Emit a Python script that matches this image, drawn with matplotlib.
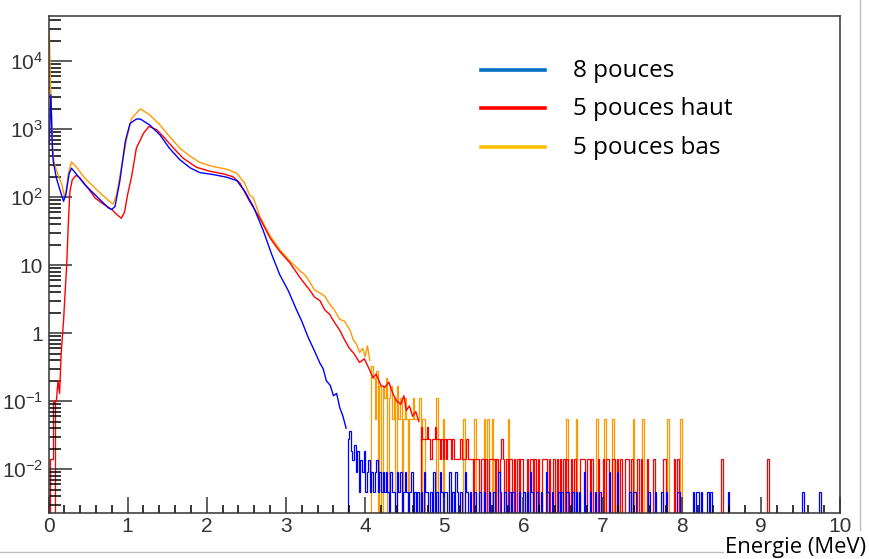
import numpy as np
import matplotlib.pyplot as plt
from matplotlib.lines import Line2D
from matplotlib.ticker import FixedLocator, NullFormatter, MultipleLocator

plt.rcParams['font.family'] = ['Liberation Sans', 'DejaVu Sans']
plt.rcParams['mathtext.fontset'] = 'custom'
plt.rcParams['mathtext.rm'] = 'Liberation Sans'
plt.rcParams['mathtext.it'] = 'Liberation Sans:italic'

# ---- smooth part of each spectrum (energy in MeV, counts) ----
blue_e = [0.01, 0.03, 0.05, 0.06, 0.10, 0.15, 0.19, 0.22, 0.26, 0.29, 0.35, 0.46, 0.63,
          0.76, 0.80, 0.84, 0.90, 0.97, 1.03, 1.11, 1.16, 1.28, 1.41, 1.53, 1.66, 1.79,
          1.91, 2.08, 2.25, 2.38, 2.48, 2.59, 2.71, 2.82, 2.92, 3.03, 3.13, 3.20, 3.28,
          3.36, 3.43, 3.47, 3.51, 3.56, 3.60, 3.64, 3.68, 3.72, 3.76]
blue_v = [600, 3200, 500, 335, 190, 122, 87, 110, 220, 267, 220, 152, 97,
          69, 66, 73, 170, 660, 1215, 1410, 1410, 1150, 820, 520, 355, 270,
          230, 215, 197, 175, 122, 72, 33, 14.4, 7.3, 4.2, 2.25, 1.5, 0.87,
          0.55, 0.36, 0.3, 0.2, 0.17, 0.12, 0.13, 0.08, 0.06, 0.04]

red_e = [0.07, 0.10, 0.12, 0.14, 0.16, 0.19, 0.21, 0.23, 0.25, 0.27, 0.30, 0.35, 0.40,
         0.50, 0.59, 0.70, 0.80, 0.86, 0.92, 0.96, 1.00, 1.05, 1.11, 1.20, 1.27, 1.37,
         1.45, 1.58, 1.70, 1.87, 2.04, 2.21, 2.33, 2.42, 2.54, 2.67, 2.80, 2.92, 3.05,
         3.18, 3.30, 3.36, 3.43, 3.49, 3.55, 3.62, 3.68, 3.74, 3.80, 3.86, 3.93, 3.99,
         4.05, 4.10, 4.14, 4.20, 4.25, 4.30, 4.35, 4.40, 4.45, 4.49, 4.52, 4.56, 4.60,
         4.64, 4.68]
red_v = [0.1, 0.1, 0.2, 0.13, 0.5, 1.5, 4, 10, 40, 120, 180, 210, 190,
         135, 97, 78, 66, 56, 49, 60, 110, 200, 525, 870, 1100, 975,
         780, 525, 375, 275, 240, 220, 200, 160, 87, 49, 25, 16, 10.8,
         6.5, 4.3, 3.4, 3.0, 2.2, 1.9, 1.4, 1.1, 0.8, 0.6, 0.5, 0.37, 0.42,
         0.3, 0.22, 0.25, 0.17, 0.16, 0.19, 0.13, 0.1, 0.09, 0.12, 0.073, 0.085, 0.06,
         0.07, 0.05]

orange_e = [0.01, 0.03, 0.05, 0.07, 0.10, 0.13, 0.17, 0.20, 0.22, 0.25, 0.29, 0.35, 0.46,
            0.63, 0.80, 0.82, 0.86, 0.92, 0.99, 1.05, 1.16, 1.28, 1.41, 1.53, 1.66, 1.79,
            1.91, 2.08, 2.25, 2.38, 2.48, 2.54, 2.59, 2.67, 2.80, 2.92, 3.05, 3.18, 3.24,
            3.30, 3.36, 3.43, 3.49, 3.55, 3.61, 3.68, 3.74, 3.81, 3.85, 3.89, 3.93, 3.97,
            4.00, 4.03, 4.06]
orange_v = [27000, 3000, 600, 330, 250, 200, 150, 105, 115, 220, 330, 280, 190,
            122, 81, 80, 109, 267, 740, 1440, 1990, 1620, 1150, 780, 525, 400,
            325, 282, 258, 225, 160, 108, 97, 52, 27, 17, 11.5, 8.2, 7.2,
            5.7, 4.3, 3.9, 3.5, 2.7, 2.2, 1.6, 1.5, 1.1, 0.8, 0.69, 0.52, 0.6,
            0.45, 0.65, 0.4]

# ---- sparse low-count bins (0.02 MeV wide): left edge, number of counts ----
blue_unit = 0.0046
blue_tail_e = [3.78, 3.80, 3.82, 3.84, 3.86, 3.88, 3.90, 3.92, 3.94, 3.96, 3.98, 4.00,
               4.02, 4.04, 4.06, 4.08, 4.10, 4.12, 4.14, 4.16, 4.18, 4.20, 4.22, 4.24,
               4.26, 4.28, 4.32, 4.34, 4.36, 4.40, 4.42, 4.44, 4.48, 4.50, 4.52, 4.56,
               4.58, 4.62, 4.66, 4.70, 4.74, 4.76, 4.78, 4.82, 4.86, 4.90, 4.94, 4.96,
               5.00, 5.02, 5.06, 5.10, 5.14, 5.16, 5.20, 5.26, 5.28, 5.32, 5.38, 5.44,
               5.50, 5.56, 5.62, 5.68, 5.70, 5.76, 5.82, 5.86, 5.88, 5.94, 6.00, 6.04,
               6.08, 6.10, 6.16, 6.22, 6.28, 6.30, 6.36, 6.44, 6.48, 6.54, 6.56, 6.62,
               6.66, 6.70, 6.76, 6.84, 6.90, 6.96, 7.08, 7.18, 7.34, 7.38, 7.40, 7.58,
               7.66, 7.74, 7.80, 7.94, 7.96, 8.14, 8.18, 8.20, 8.24, 8.32, 8.36, 8.58,
               9.52, 9.74]
blue_tail_n = [6, 8, 4, 3, 5, 2, 4, 1, 3, 2, 4, 1,
               2, 3, 1, 2, 1, 2, 3, 1, 2, 1, 2, 1,
               2, 1, 2, 1, 1, 2, 1, 2, 1, 2, 1, 1,
               2, 1, 1, 1, 2, 1, 1, 1, 2, 1, 2, 1,
               1, 1, 2, 1, 2, 1, 1, 2, 1, 1, 1, 1,
               1, 1, 1, 2, 1, 1, 1, 1, 1, 1, 1, 1,
               2, 1, 1, 1, 2, 1, 1, 1, 1, 1, 1, 1,
               1, 1, 2, 1, 1, 1, 2, 2, 1, 1, 1, 1,
               1, 1, 1, 1, 1, 1, 1, 1, 1, 1, 1, 1,
               1, 1]

red_unit = 0.0139
red_tail_e = [0.02, 0.04, 0.06,
              4.70, 4.72, 4.74, 4.76, 4.78, 4.80, 4.82, 4.84, 4.86, 4.88, 4.90, 4.92,
              4.94, 4.96, 4.98, 5.00, 5.02, 5.04, 5.06, 5.08, 5.10, 5.12, 5.14, 5.16,
              5.18, 5.20, 5.22, 5.24, 5.26, 5.28, 5.30, 5.32, 5.34, 5.38, 5.40, 5.42,
              5.46, 5.48, 5.52, 5.56, 5.58, 5.60, 5.62, 5.66, 5.70, 5.72, 5.74, 5.78,
              5.82, 5.84, 5.88, 5.92, 5.96, 5.98, 6.04, 6.08, 6.10, 6.14, 6.18, 6.24,
              6.26, 6.28, 6.32, 6.38, 6.42, 6.46, 6.50, 6.54, 6.60, 6.64, 6.72, 6.74,
              6.76, 6.80, 6.82, 6.86, 6.94, 7.00, 7.04, 7.06, 7.12, 7.14, 7.18, 7.22,
              7.28, 7.30, 7.32, 7.36, 7.44, 7.48, 7.56, 7.64, 7.76, 7.78, 7.90, 7.94,
              8.50, 9.08]
red_tail_n = [1, 1, 7,
              3, 2, 2, 2, 3, 2, 1, 2, 2, 3, 2, 2,
              1, 2, 1, 2, 1, 2, 2, 1, 2, 1, 1, 1,
              1, 2, 1, 1, 1, 2, 1, 1, 1, 1, 1, 1,
              1, 1, 1, 1, 1, 1, 1, 1, 1, 2, 1, 1,
              1, 1, 1, 1, 1, 1, 1, 1, 1, 1, 1, 1,
              1, 1, 1, 1, 1, 1, 1, 1, 1, 1, 1, 1,
              1, 1, 1, 1, 1, 1, 1, 1, 1, 1, 1, 1,
              1, 1, 1, 1, 1, 1, 1, 1, 1, 1, 1, 1,
              1, 1]

orange_unit = 0.055
orange_tail_e = [4.08, 4.10, 4.12, 4.14, 4.18, 4.22, 4.24, 4.26, 4.30, 4.32, 4.34, 4.36,
                 4.40, 4.42, 4.44, 4.48, 4.50, 4.52, 4.56, 4.58, 4.60, 4.62, 4.64, 4.66,
                 4.68, 4.72, 4.74, 4.90, 4.98, 5.24, 5.38, 5.50, 5.54, 5.60, 5.80, 6.54,
                 6.66, 6.92, 7.02, 7.12, 7.38, 7.50, 7.82, 7.98]
orange_tail_n = [6, 4, 1, 5, 3, 3, 2, 4, 2, 3, 1, 2,
                 3, 1, 2, 1, 2, 1, 1, 1, 2, 1, 1, 1,
                 2, 1, 1, 2, 1, 1, 1, 1, 1, 1, 1, 1,
                 1, 1, 1, 1, 1, 1, 1, 1]

labels = ['8 pouces', '5 pouces haut', '5 pouces bas']
legend_colors = ['#0070C0', '#FF0000', '#FFC000']
line_colors = ['#0000FF', '#FF0000', '#FF9900']

y_major = [1e-2, 1e-1, 1, 10, 1e2, 1e3, 1e4]
y_labels = [r'$10^{-2}$', r'$10^{-1}$', '1', '10', r'$10^{2}$', r'$10^{3}$', r'$10^{4}$']

bin_w = 0.02
edges = np.linspace(0, 10, 501)


def tail_values(e_list, n_list, unit):
    vals = np.full(len(edges) - 1, 1e-6)
    idx = np.round(np.array(e_list) / bin_w).astype(int)
    vals[idx] = np.array(n_list) * unit
    return vals


W, H = 869, 559
fig = plt.figure(figsize=(W / 100, H / 100), dpi=100)
ax = fig.add_axes([48.5 / W, 1 - 513.3 / H, (840 - 48.5) / W, (513.3 - 15.7) / H])

series = [
    (blue_e, blue_v, blue_tail_e, blue_tail_n, blue_unit, line_colors[0]),
    (red_e, red_v, red_tail_e, red_tail_n, red_unit, line_colors[1]),
    (orange_e, orange_v, orange_tail_e, orange_tail_n, orange_unit, line_colors[2]),
]
for e, v, te, tn, unit, col in reversed(series):
    ax.stairs(tail_values(te, tn, unit), edges, color=col, lw=0.9, baseline=None)
    ax.plot(e, v, color=col, lw=1.0)

ax.set_yscale('log')
ax.set_xlim(0, 10)
ax.set_ylim(2.24e-3, 4.67e4)

ax.yaxis.set_major_locator(FixedLocator(y_major))
ax.set_yticklabels(y_labels)
minor = [m * 10.0 ** k for k in range(-3, 5) for m in range(2, 10)]
ax.yaxis.set_minor_locator(FixedLocator(minor))
ax.yaxis.set_minor_formatter(NullFormatter())
ax.xaxis.set_major_locator(MultipleLocator(1))
ax.xaxis.set_minor_locator(MultipleLocator(0.2))

ax.tick_params(axis='y', which='major', direction='in', length=16.5, width=1.1,
               labelsize=15, colors='#333333', pad=4)
ax.tick_params(axis='y', which='minor', direction='in', length=8.5, width=1.1)
ax.tick_params(axis='x', which='major', direction='in', length=11.5, width=1.1,
               labelsize=15, colors='#333333', pad=3)
ax.tick_params(axis='x', which='minor', direction='in', length=5.8, width=1.1)
for s in ax.spines.values():
    s.set_linewidth(1.1)
    s.set_color('#333333')

# legend drawn as in the slide
leg_y = [70, 108.3, 146.7]
for lab, col, y in zip(labels, legend_colors, leg_y):
    fig.add_artist(Line2D([481 / W, 545 / W], [1 - y / H, 1 - y / H], color=col, lw=2.6))
    fig.text(573 / W, 1 - (y + 1) / H, lab, fontsize=17.5, family='Open Sans', va='center', ha='left')

fig.text(866 / W, 1 - 547 / H, 'Energie (MeV)', fontsize=15.8, family='Open Sans',
         va='center', ha='right')

# frame of the pasted picture
fig.add_artist(Line2D([0, 723 / W], [1 - 552 / H, 1 - 552 / H], color='#BFBFBF', lw=1))
fig.add_artist(Line2D([860 / W, 860 / W], [1 - 530 / H, 1], color='#BFBFBF', lw=1))

fig.savefig('out.png', dpi=100)
